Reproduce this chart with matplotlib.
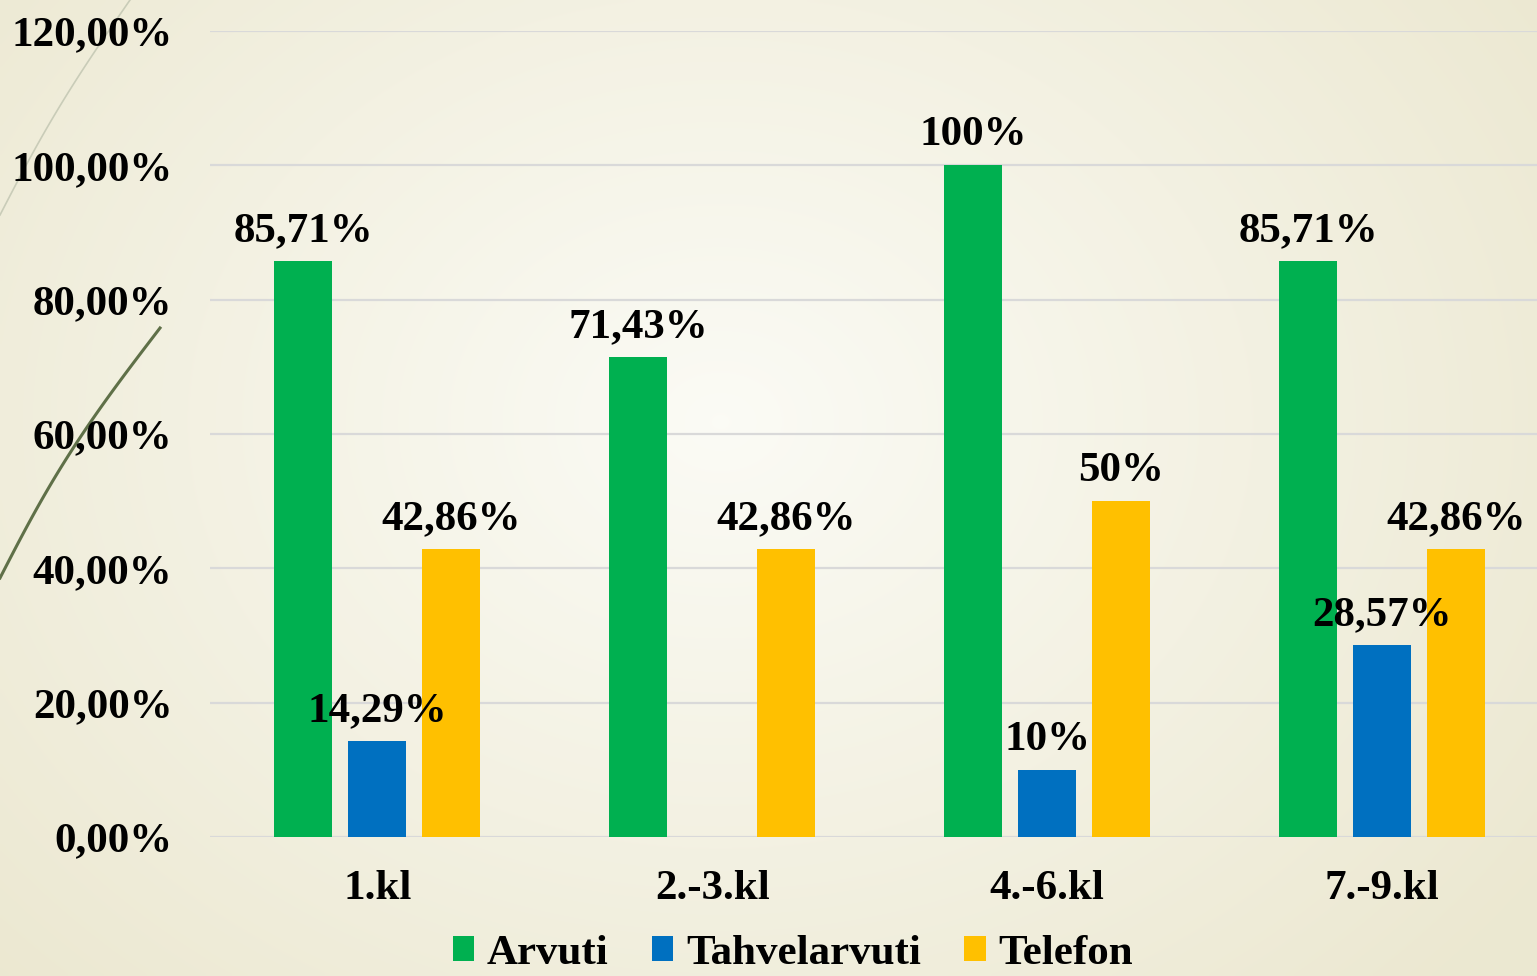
import numpy as np
import matplotlib.pyplot as plt
from matplotlib.ticker import FuncFormatter

# --- data ---
categories = ["1.kl", "2.-3.kl", "4.-6.kl", "7.-9.kl"]
series_names = ["Arvuti", "Tahvelarvuti", "Telefon"]
arvuti = [0.8571, 0.7143, 1.00, 0.8571]
tahvelarvuti = [0.1429, 0.0, 0.10, 0.2857]
telefon = [0.4286, 0.4286, 0.50, 0.4286]
arvuti_labels = ["85,71%", "71,43%", "100%", "85,71%"]
tahvelarvuti_labels = ["14,29%", "", "10%", "28,57%"]
telefon_labels = ["42,86%", "42,86%", "50%", "42,86%"]
y_ticks = [0.0, 0.2, 0.4, 0.6, 0.8, 1.0, 1.2]

colors = ["#00B050", "#0070C0", "#FFC000"]

plt.rcParams['font.family'] = ['Liberation Serif', 'DejaVu Serif']
plt.rcParams['font.weight'] = 'bold'
FS = 31


def main():
    fig = plt.figure(figsize=(15.37, 9.76), dpi=100)

    # background gradient + decorative curves
    bg = fig.add_axes([0, 0, 1, 1], zorder=0)
    bg.set_xlim(0, 1537)
    bg.set_ylim(976, 0)
    bg.axis("off")
    yy, xx = np.mgrid[0:976:4, 0:1537:4]
    d = np.sqrt(((xx - 720) / 1000.0) ** 2 + ((yy - 420) / 800.0) ** 2)
    d = np.clip(d, 0, 1)
    c0 = np.array([0.985, 0.985, 0.962])
    c1 = np.array([0.925, 0.910, 0.820])
    img = c0[None, None, :] * (1 - d[..., None]) + c1[None, None, :] * d[..., None]
    bg.imshow(img, extent=[0, 1537, 976, 0], aspect="auto", interpolation="bilinear")
    t = np.linspace(0, 1, 50)
    bg.plot(130 - 130 * t - 6 * np.sin(np.pi * t), 215 * t, color="#C9CCB8", lw=1.2)
    bg.plot(160 - 160 * t - 10 * np.sin(np.pi * t), 328 + 250 * t, color="#5F7048", lw=2.2)

    ax = fig.add_axes([0.1366, 0.1424, 0.8634, 0.8258], zorder=1)
    ax.set_facecolor("none")

    x = np.arange(len(categories))
    offset = 0.221
    width = 0.173
    all_vals = [arvuti, tahvelarvuti, telefon]
    all_labels = [arvuti_labels, tahvelarvuti_labels, telefon_labels]
    for i, (vals, labs) in enumerate(zip(all_vals, all_labels)):
        bars = ax.bar(x + (i - 1) * offset, vals, width, color=colors[i],
                      label=series_names[i], zorder=3)
        ax.bar_label(bars, labels=labs, padding=8, fontsize=FS, fontweight="bold",
                     color="black", zorder=4)

    ax.set_xlim(-0.5, 3.463)
    ax.set_ylim(0, 1.2)
    ax.set_yticks(y_ticks)
    ax.yaxis.set_major_formatter(FuncFormatter(lambda v, p: f"{v * 100:.2f}%".replace(".", ",")))
    ax.set_xticks(x)
    ax.set_xticklabels(categories)
    ax.tick_params(axis="both", length=0, labelsize=FS)
    ax.tick_params(axis="y", pad=27)
    ax.tick_params(axis="x", pad=24)
    for lab in ax.get_xticklabels() + ax.get_yticklabels():
        lab.set_fontweight("bold")

    ax.grid(axis="y", color="#D9D9D9", lw=1.6, zorder=0)
    for s in ax.spines.values():
        s.set_visible(False)

    # legend sits at the very bottom edge, nudged up just enough to stay whole
    fig.legend(loc="lower center", bbox_to_anchor=(793 / 1537, -0.019), ncol=3, frameon=False,
               fontsize=FS, handlelength=0.5, handleheight=0.5, handletextpad=0.3,
               columnspacing=1.0, borderpad=0.0, prop={"weight": "bold", "size": FS})

    fig.savefig("out.png", dpi=100)


if __name__ == '__main__':
    main()
